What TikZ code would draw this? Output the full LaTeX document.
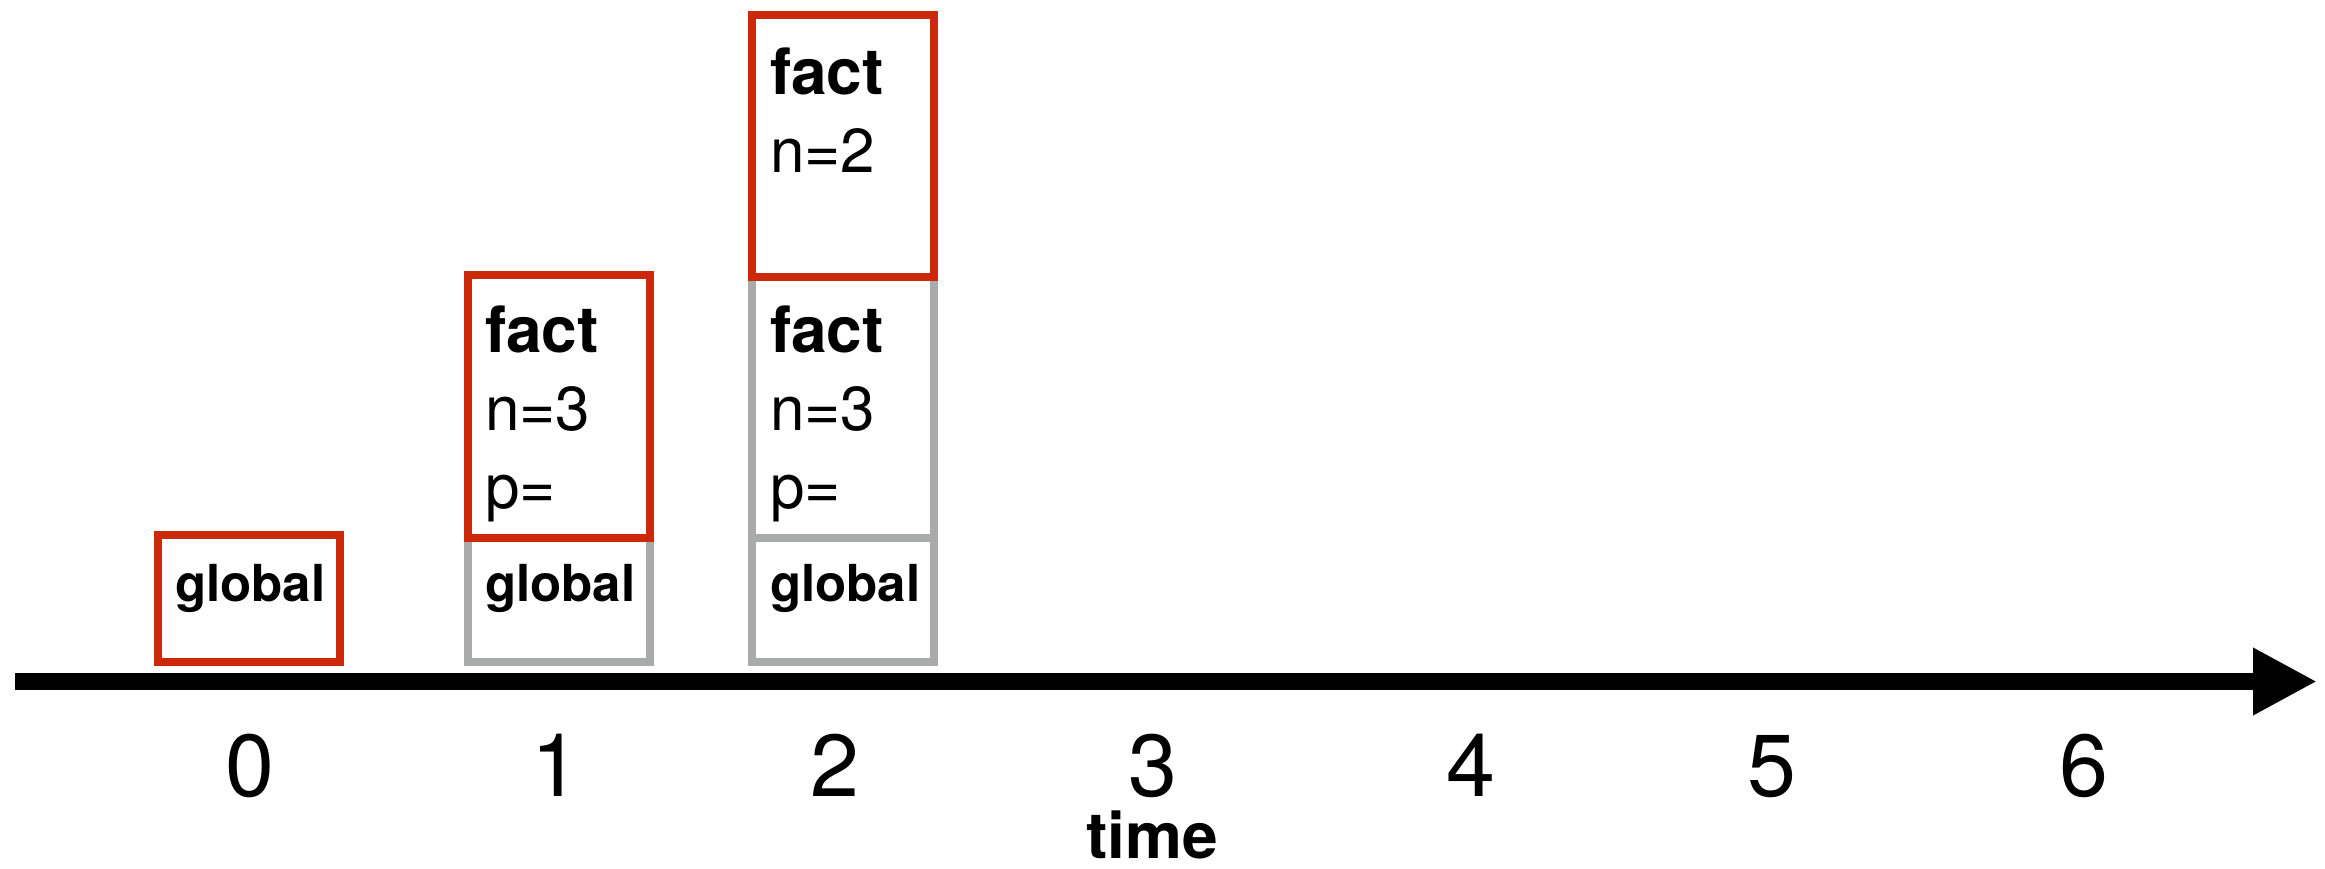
\documentclass[tikz,border=0pt]{standalone}
\usepackage{fontspec}
\setmainfont{TeX Gyre Heros}
\usepackage{tikz}
\usetikzlibrary{positioning,arrows.meta,calc}

\tikzset{
  frame/.style={draw=#1, line width=4pt, inner sep=0pt, outer sep=0pt,
    anchor=south west, minimum width=91pt},
  framelbl/.style={anchor=base west, inner sep=0pt, outer sep=0pt,
    font=\fontsize{32}{38}\selectfont\bfseries},
  varlbl/.style={anchor=base west, inner sep=0pt, outer sep=0pt,
    font=\fontsize{31}{37}\selectfont},
  globlbl/.style={anchor=base west, inner sep=0pt, outer sep=0pt,
    font=\fontsize{25.5}{30}\selectfont\bfseries},
  ticklbl/.style={anchor=base, inner sep=0pt, outer sep=0pt,
    font=\fontsize{44}{50}\selectfont},
}

\begin{document}
\begin{tikzpicture}[x=0.5pt,y=0.5pt]
\definecolor{frameRed}{RGB}{204,40,10}
\definecolor{frameGray}{RGB}{168,171,170}
\path[use as bounding box,fill=white] (0,0) rectangle (2325,868);

% time axis
\coordinate (axisStart) at (15,186.5);
\coordinate (axisEnd) at (2317,186.5);
\draw[line width=8.5pt,-{Triangle[length=32pt,width=31.5pt]}] (axisStart) -- (axisEnd);

% step 0
\node[frame=frameRed, minimum height=63.5pt] (global0) at (158,206) {};
\node[globlbl] (global0Lbl) at (175,266) {global};

% step 1
\node[frame=frameGray, minimum height=62pt] (global1) at (468,206) {};
\node[frame=frameRed, minimum height=131.5pt] (fact1) at (468,330) {};
\node[globlbl] (global1Lbl) at (485,266) {global};
\node[framelbl] (fact1Lbl) at (485,515) {fact};
\node[varlbl] (fact1N) at (485,437) {n=3};
\node[varlbl] (fact1P) at (485,359) {p=};

% step 2
\node[frame=frameGray, minimum height=62pt] (global2) at (752,206) {};
\node[frame=frameGray, minimum height=130.25pt] (fact2a) at (752,330) {};
\node[frame=frameRed, minimum height=131.25pt] (fact2b) at (752,590.5) {};
\node[globlbl] (global2Lbl) at (770,266) {global};
\node[framelbl] (fact2aLbl) at (770,515) {fact};
\node[varlbl] (fact2aN) at (770,437) {n=3};
\node[varlbl] (fact2aP) at (770,359) {p=};
\node[framelbl] (fact2bLbl) at (770,773) {fact};
\node[varlbl] (fact2bN) at (770,695) {n=2};

% tick labels
\foreach \t/\xpos in {0/249.5,1/556,2/835,3/1153,4/1471,5/1772,6/2084}
  \node[ticklbl] (tick\t) at (\xpos,71) {\t};
\node[framelbl, anchor=base] (timeLbl) at (1152,10) {time};
\end{tikzpicture}
\end{document}
